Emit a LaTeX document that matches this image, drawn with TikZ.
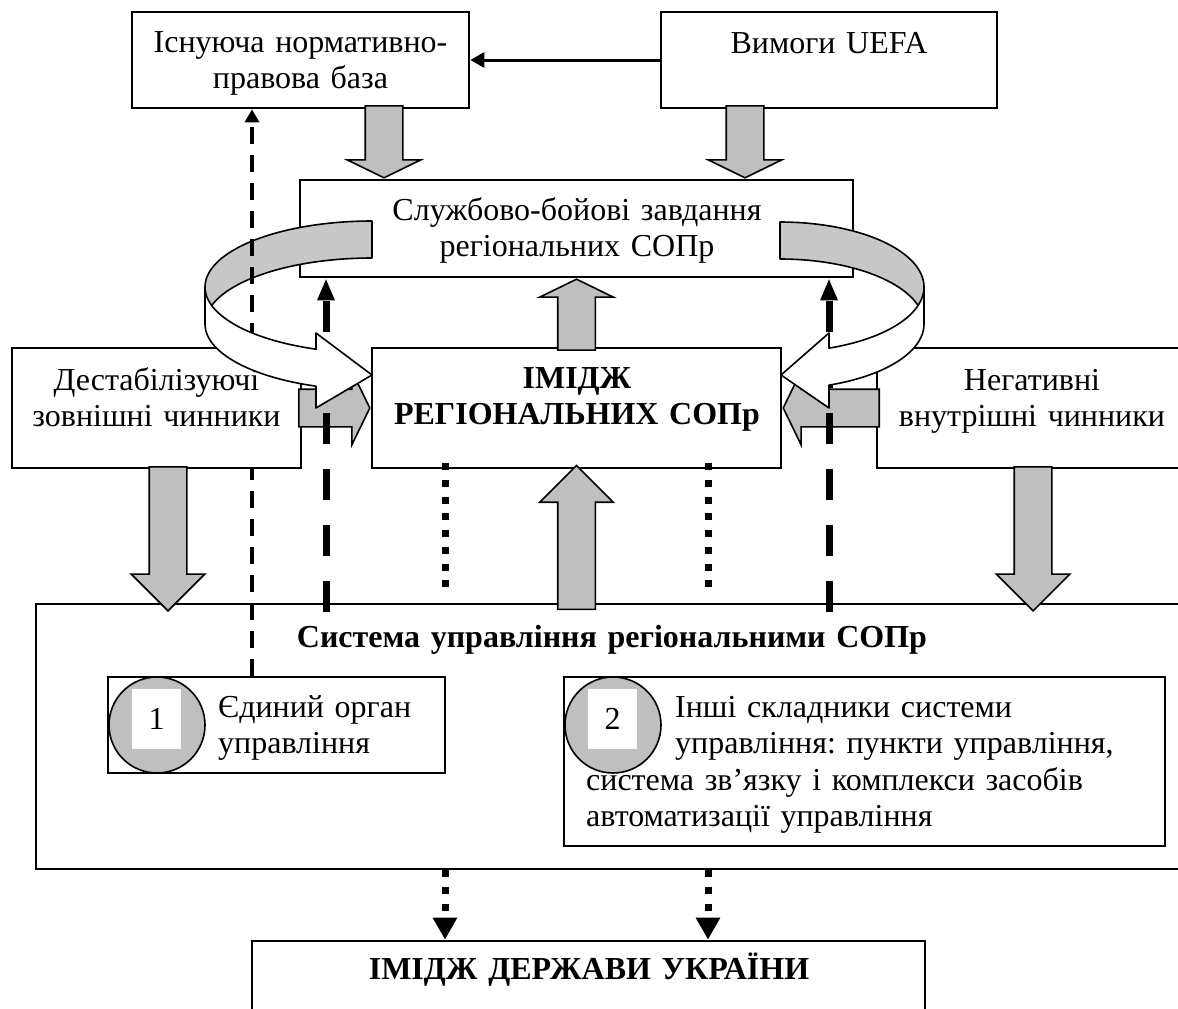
\documentclass[tikz,border=0pt]{standalone}
\usepackage{fontspec}
\setmainfont{Liberation Serif}
\frenchspacing
\usetikzlibrary{arrows.meta, shapes.arrows, calc}

\begin{document}
\begin{tikzpicture}[x=1pt, y=-1pt,
    every node/.append style={font=\fontsize{32}{36}\selectfont},
    box/.style={draw, line width=2.6pt, inner sep=0pt},
    txt/.style={anchor=base, align=center, inner sep=0pt, text width=#1},
    bold/.style={font=\fontsize{32}{36}\selectfont\bfseries},
    garrow/.style={single arrow, draw, fill=black!25, line width=1.6pt,
        inner xsep=0pt, inner ysep=18pt, single arrow head extend=18pt},
    flathead/.style={single arrow tip angle=128},
    sharphead/.style={single arrow tip angle=90},
    ring/.style={circle, draw, fill=black!25, line width=1.6pt,
        minimum size=96pt, inner sep=0pt},
    numbox/.style={fill=white, inner sep=0pt, minimum width=49pt, minimum height=60pt},
    thindash/.style={line width=3.5pt, dash pattern=on 17pt off 11pt,
        -{Triangle[length=13pt,width=14pt]}},
    thickdash/.style={line width=7pt, dash pattern=on 31pt off 25pt,
        -{Triangle[length=22pt,width=16pt]}},
    dotline/.style={line width=7pt, dash pattern=on 7pt off 9.7pt},
    bandback/.style={fill=black!22, draw, line width=1.6pt, line join=round},
    bandfront/.style={fill=white, draw, line width=1.6pt, line join=round}]

    \useasboundingbox (0,0) rectangle (1178,1009);
    \clip (0,0) rectangle (1178,1009);

    % Top boxes
    \node[box, minimum width=337pt, minimum height=96pt] (norm) at (300.5,60) {};
    \node[txt=330pt] (norm-t) at (300.5,52) {Існуюча нормативно-\\правова база};
    \node[box, minimum width=336pt, minimum height=96pt] (uefa) at (829,60) {};
    \node[txt=330pt] (uefa-t) at (829,53) {Вимоги UEFA};
    \draw[line width=3pt, -{Triangle[length=14pt,width=15pt]}] (uefa) -- (norm);

    \node[box, minimum width=553pt, minimum height=97pt] (tasks) at (576.5,228.5) {};
    \node[txt=540pt] (tasks-t) at (577,220) {Службово-бойові завдання\\регіональних СОПр};

    % Control system
    \node[box, minimum width=1154pt, minimum height=265pt] (sys) at (613,736.5) {};
    \node[txt=800pt, bold] (sys-t) at (612,647) {Система управління регіональними СОПр};

    \node[box, minimum width=337pt, minimum height=96pt] (org1) at (276.5,725) {};
    \node[ring] (c1) at (157,725) {};
    \node[numbox] (n1) at (156.5,719) {1};
    \node[txt=220pt, anchor=base west, align=left] (org1-t) at (218,717) {Єдиний орган\\управління};

    \node[box, minimum width=601pt, minimum height=169pt] (org2) at (864.5,761.5) {};
    \node[ring] (c2) at (613,725) {};
    \node[numbox] (n2) at (612.5,719) {2};
    \node[txt=480pt, anchor=base west, align=left] (org2-a) at (675,717)
        {Інші складники системи\\управління: пункти управління,};
    \node[txt=570pt, anchor=base west, align=left] (org2-b) at (586,790)
        {система зв’язку і комплекси засобів\\автоматизації управління};

    \node[box, minimum width=673pt, minimum height=100pt] (state) at (588.5,991) {};
    \node[txt=660pt, bold] (state-t) at (589,979) {ІМІДЖ ДЕРЖАВИ УКРАЇНИ};

    % Back of the curved arrows
    \filldraw[bandback] plot[domain=270:180, samples=40] ({372+167*cos(\x)}, {287+66*sin(\x)})
        -- plot[domain=180:270, samples=40] ({372+167*cos(\x)}, {324+66*sin(\x)}) -- cycle;
    \filldraw[bandback] plot[domain=270:360, samples=40] ({780+144*cos(\x)}, {287+65*sin(\x)})
        -- plot[domain=360:270, samples=40] ({780+144*cos(\x)}, {324+65*sin(\x)}) -- cycle;

    % Feedback to legal base
    \coordinate (legal) at (252,0 |- org1.north);
    \draw[thindash] (legal) -- (legal |- norm.south);

    % Middle row
    \node[box, fill=white, minimum width=289pt, minimum height=120pt] (destab) at (156.5,408) {};
    \node[txt=285pt] (destab-t) at (156.5,390) {Дестабілізуючі\\зовнішні чинники};
    \node[box, fill=white, minimum width=409pt, minimum height=120pt] (image) at (576.5,408) {};
    \node[txt=400pt, bold] (image-t) at (577,388) {ІМІДЖ\\РЕГІОНАЛЬНИХ СОПр};
    \node[box, fill=white, minimum width=310pt, minimum height=120pt] (negat) at (1032,408) {};
    \node[txt=300pt] (negat-t) at (1032,390) {Негативні\\внутрішні чинники};

    % Dotted links
    \coordinate (dl) at (445,0);
    \coordinate (dr) at (708,0);
    \draw[dotline] ($(image.south -| dl)+(0,-6)$) -- ($(sys.north -| dl)+(0,-7)$);
    \draw[dotline] ($(image.south -| dr)+(0,-6)$) -- ($(sys.north -| dr)+(0,-7)$);
    \draw[dotline, -{Triangle[length=22pt,width=23pt]}] (sys.south -| dl) -- (state.north -| dl);
    \draw[dotline, -{Triangle[length=22pt,width=23pt]}] (sys.south -| dr) -- (state.north -| dr);

    % Block arrows
    \node[garrow, flathead, rotate=-90, anchor=tip, minimum height=72pt] (g1) at (384,0 |- tasks.north) {};
    \node[garrow, flathead, rotate=-90, anchor=tip, minimum height=72pt] (g2) at (745,0 |- tasks.north) {};
    \node[garrow, flathead, rotate=90, anchor=tip, minimum height=71pt] (g3) at (tasks.south) {};
    \node[garrow, flathead, anchor=tip, minimum height=71pt] (g4) at (image.west) {};
    \node[garrow, flathead, rotate=180, anchor=tip, minimum height=96pt] (g5) at (image.east) {};
    \node[garrow, sharphead, rotate=90, anchor=tip, minimum height=144pt] (g6) at ($(image.south)+(0,-5)$) {};
    \node[garrow, sharphead, rotate=-90, anchor=tip, minimum height=144pt] (g7) at (168,612) {};
    \node[garrow, sharphead, rotate=-90, anchor=tip, minimum height=144pt] (g8) at (1033,612) {};

    % Thick dashed links
    \coordinate (tl) at (326,612);
    \coordinate (tr) at (829,612);
    \draw[thickdash] (tl) -- (tl |- tasks.south);
    \draw[thickdash] (tr) -- (tr |- tasks.south);

    % Front of the curved arrows
    \filldraw[bandfront] plot[domain=180:109.6, samples=40] ({372+167*cos(\x)}, {287+66*sin(\x)})
        -- (316,333) -- (372,375) -- (316,408)
        -- plot[domain=109.6:180, samples=40] ({372+167*cos(\x)}, {324+66*sin(\x)}) -- cycle;
    \filldraw[bandfront] plot[domain=0:70.1, samples=40] ({780+144*cos(\x)}, {287+65*sin(\x)})
        -- (829,333) -- (781,375) -- (829,408)
        -- plot[domain=70.1:0, samples=40] ({780+144*cos(\x)}, {324+65*sin(\x)}) -- cycle;
\end{tikzpicture}
\end{document}
